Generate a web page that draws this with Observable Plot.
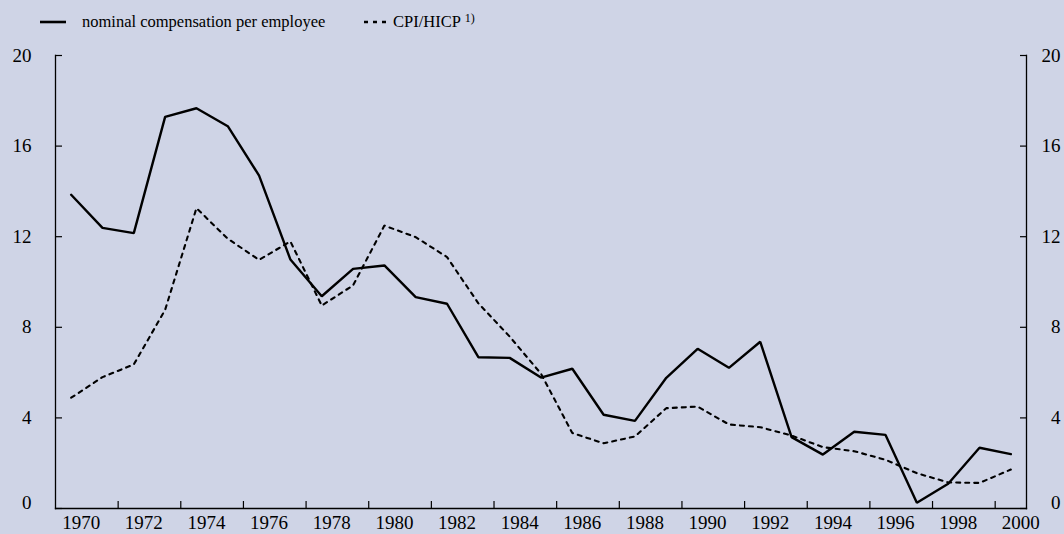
<!DOCTYPE html>
<html><head><meta charset="utf-8">
<script src="https://cdn.jsdelivr.net/npm/d3@7"></script>
<script src="https://cdn.jsdelivr.net/npm/@observablehq/plot@0.6"></script>
<style>
html,body{margin:0;padding:0;background:#cfd4e6;}
#wrap{width:1064px;height:534px;position:relative;background:#cfd4e6;font-family:"Liberation Serif","Times New Roman",serif;color:#000;overflow:hidden;}
#legend{position:relative;height:40px;font-size:16.5px;}
.item{position:absolute;top:10px;height:24px;line-height:24px;white-space:nowrap;}
.sw{position:absolute;top:0;}
sup{font-size:12px;vertical-align:top;position:relative;top:-4px;margin-left:4px;}
</style></head><body>
<div id="wrap">
  <div id="legend"></div>
  <div id="chart"></div>
</div>
<script>
const years = [1970,1971,1972,1973,1974,1975,1976,1977,1978,1979,1980,1981,1982,1983,1984,1985,1986,1987,1988,1989,1990,1991,1992,1993,1994,1995,1996,1997,1998,1999,2000];
const compensation = [13.85,12.39,12.16,17.29,17.67,16.88,14.70,10.99,9.37,10.58,10.73,9.33,9.04,6.68,6.65,5.78,6.17,4.14,3.87,5.77,7.05,6.21,7.36,3.15,2.38,3.39,3.25,0.25,1.09,2.68,2.40];
const cpi = [4.89,5.80,6.36,8.77,13.26,11.91,10.98,11.79,8.96,9.85,12.49,11.98,11.10,9.06,7.59,5.95,3.33,2.88,3.18,4.43,4.50,3.71,3.59,3.22,2.71,2.53,2.15,1.56,1.15,1.13,1.72];
const seriesNames = ["nominal compensation per employee", "CPI/HICP"];
const yTickValues = [0,4,8,12,16,20];
const yLabelValues = [4,8,12,16,20];
const yZeroLabel = [0];
const xLabelYears = [1970,1972,1974,1976,1978,1980,1982,1984,1986,1988,1990,1992,1994,1996,1998,2000];
const xTickPositions = [1971.5,1973.5,1975.5,1977.5,1979.5,1981.5,1983.5,1985.5,1987.5,1989.5,1991.5,1993.5,1995.5,1997.5,1999.5];
const xDomain = [1969.5, 2000.5];
const yDomain = [0, 20];

const compData = years.map((y,i)=>({year:y, value:compensation[i]}));
const cpiData = years.map((y,i)=>({year:y, value:cpi[i]}));

// legend
const legend = document.getElementById("legend");
legend.innerHTML = `
  <div class="item" style="left:40px;width:26px;"><svg class="sw" width="26" height="24"><line x1="0" x2="26" y1="12" y2="12" stroke="#000" stroke-width="2.6"/></svg></div>
  <div class="item" style="left:82px;">${seriesNames[0]}</div>
  <div class="item" style="left:364px;width:24px;"><svg class="sw" width="24" height="24"><line x1="0" x2="24" y1="12" y2="12" stroke="#000" stroke-width="2.6" stroke-dasharray="4,5"/></svg></div>
  <div class="item" style="left:393px;">${seriesNames[1]}<sup>1)</sup></div>`;

const font = "'Liberation Serif', 'Times New Roman', serif";
const chart = Plot.plot({
  width: 1064,
  height: 494,
  marginLeft: 55,
  marginRight: 38,
  marginTop: 15,
  marginBottom: 26,
  style: {background: "transparent", fontFamily: font, fontSize: "19px", color: "#000", overflow: "visible"},
  x: {domain: xDomain, axis: null},
  y: {domain: yDomain, axis: null},
  marks: [
    Plot.frame({anchor: "left", stroke: "#000", strokeWidth: 1.3}),
    Plot.frame({anchor: "right", stroke: "#000", strokeWidth: 1.3}),
    Plot.frame({anchor: "bottom", stroke: "#000", strokeWidth: 1.3}),
    // inward ticks
    Plot.axisY({anchor: "left", ticks: yTickValues, tickSize: -7, fill: "none", strokeWidth: 1.2, label: null}),
    Plot.axisY({anchor: "right", ticks: yTickValues, tickSize: -7, fill: "none", strokeWidth: 1.2, label: null}),
    Plot.axisX({anchor: "bottom", ticks: xTickPositions, tickSize: -7, fill: "none", strokeWidth: 1.2, label: null}),
    // labels
    Plot.axisY({anchor: "left", ticks: yLabelValues, tickSize: 0, tickPadding: 24, fontSize: 19, label: null}),
    Plot.axisY({anchor: "left", ticks: yZeroLabel, tickSize: 0, tickPadding: 24, dy: -6, fontSize: 19, label: null}),
    Plot.axisY({anchor: "right", ticks: yLabelValues, tickSize: 0, tickPadding: 34, textAnchor: "end", fontSize: 19, label: null}),
    Plot.axisY({anchor: "right", ticks: yZeroLabel, tickSize: 0, tickPadding: 34, textAnchor: "end", dy: -6, fontSize: 19, label: null}),
    Plot.axisX({anchor: "bottom", ticks: xLabelYears, tickSize: 0, tickPadding: 7, dx: 10, fontSize: 19, tickFormat: d => String(d), label: null}),
    // series
    Plot.line(cpiData, {x: "year", y: "value", stroke: "#000", strokeWidth: 2.1, strokeDasharray: "4,5", strokeLinejoin: "miter"}),
    Plot.line(compData, {x: "year", y: "value", stroke: "#000", strokeWidth: 2.4, strokeLinejoin: "miter"})
  ]
});
document.getElementById("chart").appendChild(chart);
</script>
</body></html>
